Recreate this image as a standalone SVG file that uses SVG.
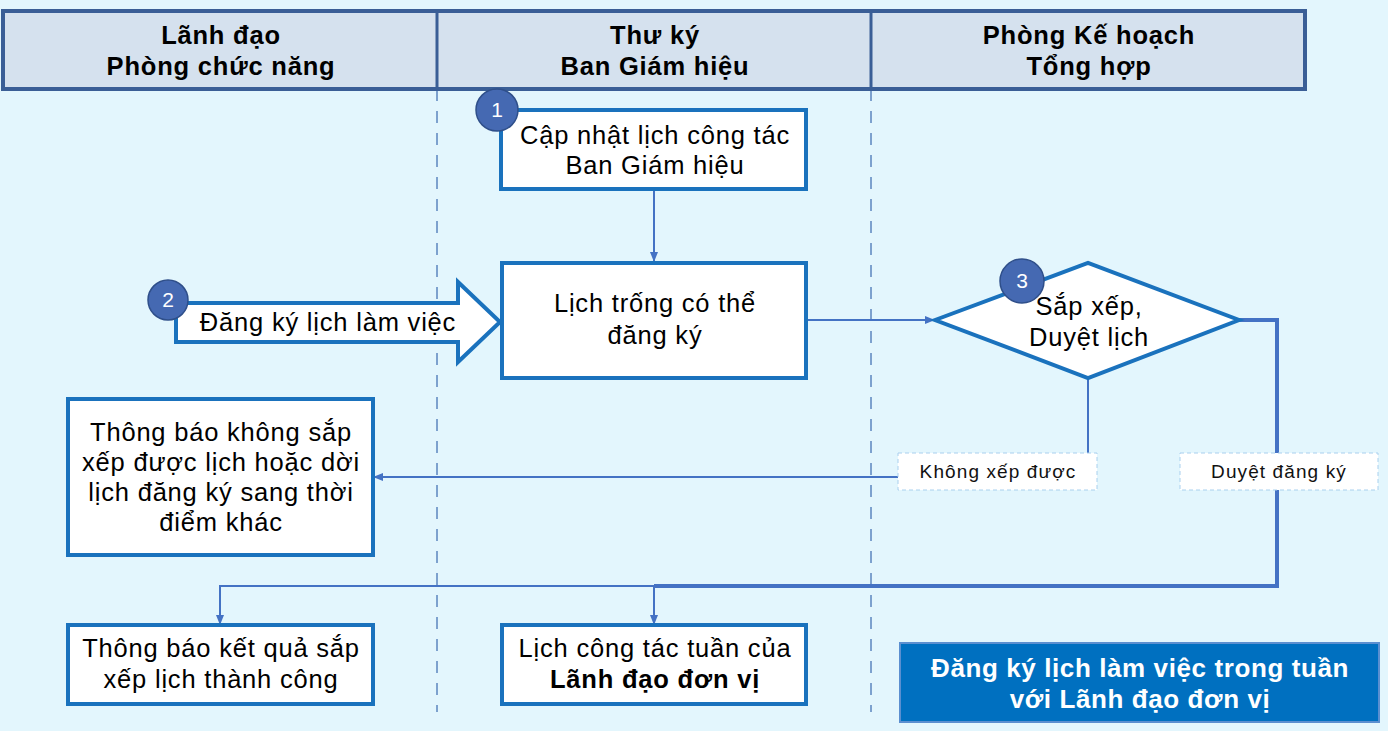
<svg xmlns="http://www.w3.org/2000/svg" width="1388" height="731" viewBox="0 0 1388 731">
<defs>
<style>
.hdr{fill:#D5E1EE;stroke:#3A5E96;stroke-width:4}
.ht{font-family:"Liberation Sans",Arial,sans-serif;font-weight:bold;font-size:25.5px;letter-spacing:0.8px;fill:#000;text-anchor:middle}
.tt{font-family:"Liberation Sans",Arial,sans-serif;font-weight:bold;font-size:26px;letter-spacing:0.6px;fill:#fff;text-anchor:middle}
.box{fill:#fff;stroke:#1A72BD;stroke-width:4}
.bt{font-family:"Liberation Sans",Arial,sans-serif;font-size:25.5px;letter-spacing:0.8px;fill:#000;text-anchor:middle}
.lane{stroke:#3A6AB0;stroke-width:1.2;stroke-dasharray:12,10;fill:none}
.con{stroke:#4472C4;stroke-width:2;fill:none}
.conT{stroke:#4472C4;stroke-width:4;fill:none}
.lbl{fill:#fff;stroke:#A9D0EE;stroke-width:1;stroke-dasharray:4,3}
.lt{font-family:"Liberation Sans",Arial,sans-serif;font-size:19px;letter-spacing:1.1px;fill:#111;text-anchor:middle}
.num{fill:#4569B2;stroke:#2F4F8A;stroke-width:1.5}
.nt{font-family:"Liberation Sans",Arial,sans-serif;font-size:21px;fill:#fff;text-anchor:middle}
</style>
<marker id="ah" markerWidth="10" markerHeight="10" refX="9" refY="5" orient="auto" markerUnits="userSpaceOnUse">
<path d="M0,1 L10,5 L0,9 z" fill="#4472C4"/>
</marker>
</defs>
<rect width="1388" height="731" fill="#E3F6FD"/>

<g id="lanes">
<line class="lane" x1="437" y1="89" x2="437" y2="712"/>
<line class="lane" x1="871" y1="89" x2="871" y2="712"/>
</g>

<g id="header">
<rect class="hdr" x="3" y="11" width="1302" height="78"/>
<line x1="437" y1="11" x2="437" y2="89" stroke="#3A5E96" stroke-width="3"/>
<line x1="871" y1="11" x2="871" y2="89" stroke="#3A5E96" stroke-width="3"/>
<text class="ht" x="221" y="44">Lãnh đạo</text>
<text class="ht" x="221" y="75">Phòng chức năng</text>
<text class="ht" x="655" y="44">Thư ký</text>
<text class="ht" x="655" y="75">Ban Giám hiệu</text>
<text class="ht" x="1089" y="44">Phòng Kế hoạch</text>
<text class="ht" x="1089" y="75">Tổng hợp</text>
</g>

<g id="connectors">
<line class="con" x1="654" y1="189" x2="654" y2="261" marker-end="url(#ah)"/>
<line class="con" x1="806" y1="320" x2="934" y2="320" marker-end="url(#ah)"/>
<polyline class="con" points="1088,378 1088,455"/>
<line class="con" x1="898" y1="477" x2="374" y2="477" marker-end="url(#ah)"/>
<polyline class="conT" points="1239,320 1277,320 1277,586 654,586"/>
<polyline class="con" points="654,586 220,586 220,624" marker-end="url(#ah)"/>
<line class="con" x1="654" y1="586" x2="654" y2="624" marker-end="url(#ah)"/>
</g>

<g id="label-khong">
<rect class="lbl" x="898" y="453" width="199" height="37"/>
<text class="lt" x="998" y="478">Không xếp được</text>
</g>
<g id="label-duyet">
<rect class="lbl" x="1180" y="453" width="198" height="37"/>
<text class="lt" x="1279" y="478">Duyệt đăng ký</text>
</g>

<g id="node1">
<rect class="box" x="501" y="110" width="305" height="79"/>
<text class="bt" x="655" y="144">Cập nhật lịch công tác</text>
<text class="bt" x="655" y="174">Ban Giám hiệu</text>
<circle class="num" cx="497" cy="110" r="21"/>
<text class="nt" x="497" y="117">1</text>
</g>

<g id="node2">
<path class="box" d="M176,303 L458,303 L458,282 L500,322 L458,362 L458,342 L176,342 Z"/>
<text class="bt" x="328" y="331">Đăng ký lịch làm việc</text>
<circle class="num" cx="168" cy="300" r="20"/>
<text class="nt" x="168" y="307">2</text>
</g>

<g id="node-lichtrong">
<rect class="box" x="502" y="263" width="304" height="115"/>
<text class="bt" x="655" y="312">Lịch trống có thể</text>
<text class="bt" x="655" y="344">đăng ký</text>
</g>

<g id="node3">
<polygon class="box" points="935,320 1088,263 1239,320 1088,378"/>
<text class="bt" x="1089" y="315">Sắp xếp,</text>
<text class="bt" x="1089" y="346">Duyệt lịch</text>
<circle class="num" cx="1022" cy="281" r="22"/>
<text class="nt" x="1022" y="288">3</text>
</g>

<g id="node-khongxep">
<rect class="box" x="68" y="399" width="305" height="156"/>
<text class="bt" x="221" y="441">Thông báo không sắp</text>
<text class="bt" x="221" y="471">xếp được lịch hoặc dời</text>
<text class="bt" x="221" y="501">lịch đăng ký sang thời</text>
<text class="bt" x="221" y="531">điểm khác</text>
</g>

<g id="node-ketqua">
<rect class="box" x="68" y="625" width="305" height="79"/>
<text class="bt" x="221" y="657">Thông báo kết quả sắp</text>
<text class="bt" x="221" y="688">xếp lịch thành công</text>
</g>

<g id="node-lichtuan">
<rect class="box" x="502" y="625" width="304" height="79"/>
<text class="bt" x="655" y="657">Lịch công tác tuần của</text>
<text class="bt" x="655" y="688" font-weight="bold">Lãnh đạo đơn vị</text>
</g>

<g id="title">
<rect x="900" y="643" width="479" height="79" fill="#0070C0" stroke="#5B8FD0" stroke-width="2"/>
<text class="tt" x="1140" y="677">Đăng ký lịch làm việc trong tuần</text>
<text class="tt" x="1140" y="708">với Lãnh đạo đơn vị</text>
</g>
</svg>
